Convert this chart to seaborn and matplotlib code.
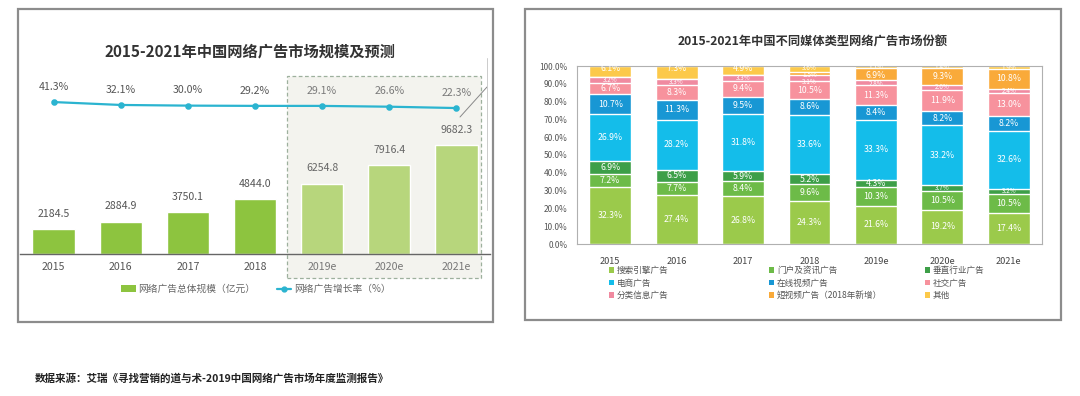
import numpy as np
import pandas as pd
import matplotlib
matplotlib.use("Agg")
import matplotlib.pyplot as plt
from matplotlib.patches import Rectangle, Patch
from matplotlib.lines import Line2D
import seaborn as sns

# ---------------- data ----------------
years = ["2015", "2016", "2017", "2018", "2019e", "2020e", "2021e"]
market_size = [2184.5, 2884.9, 3750.1, 4844.0, 6254.8, 7916.4, 9682.3]
growth_rate = [41.3, 32.1, 30.0, 29.2, 29.1, 26.6, 22.3]

share_names = ["搜索引擎广告", "门户及资讯广告", "垂直行业广告", "电商广告", "在线视频广告",
               "社交广告", "分类信息广告", "短视频广告（2018年新增）", "其他"]
search = [32.3, 27.4, 26.8, 24.3, 21.6, 19.2, 17.4]
portal = [7.2, 7.7, 8.4, 9.6, 10.3, 10.5, 10.5]
vertical = [6.9, 6.5, 5.9, 5.2, 4.3, 3.7, 3.2]
ecommerce = [26.9, 28.2, 31.8, 33.6, 33.3, 33.2, 32.6]
video = [10.7, 11.3, 9.5, 8.6, 8.4, 8.2, 8.2]
social = [6.7, 8.3, 9.4, 10.5, 11.3, 11.9, 13.0]
classified = [3.2, 3.3, 3.3, 3.1, 2.8, 2.6, 2.4]
short_video = [0.0, 0.0, 0.0, 1.5, 6.9, 9.3, 10.8]
other = [6.1, 7.3, 4.9, 3.6, 1.1, 1.4, 1.9]

title_left = "2015-2021年中国网络广告市场规模及预测"
title_right = "2015-2021年中国不同媒体类型网络广告市场份额"
legend_left = ["网络广告总体规模（亿元）", "网络广告增长率（%）"]
source_text = "数据来源：艾瑞《寻找营销的道与术-2019中国网络广告市场年度监测报告》"

# ---------------- style ----------------
sns.set_style("white")
plt.rcParams['font.family'] = ['Noto Sans CJK SC', 'DejaVu Sans']

W, H = 1080, 396
fig = plt.figure(figsize=(W / 100, H / 100), dpi=100)
fig.patch.set_facecolor("white")

def fx(px):
    return px / W

def fy(py):
    return 1 - py / H

green_hist = "#8dc43f"
green_fore = "#b7d67c"
line_col = "#2bb4d0"
seg_colors = ["#9bca4b", "#6dbb48", "#3d9f48", "#14bdea", "#1897d4",
              "#f7929d", "#f08aa0", "#f9aa3a", "#fcc94a"]

# ---------------- panel frames ----------------
for (x0, y0, x1, y1) in [(18, 9, 493, 322), (525, 9, 1061, 320)]:
    fig.add_artist(Rectangle((fx(x0), fy(y1)), fx(x1) - fx(x0), fy(y0) - fy(y1),
                             transform=fig.transFigure, fill=False,
                             edgecolor="#8c8c8c", linewidth=1.6, zorder=5))

# ---------------- left chart ----------------
ax1 = fig.add_axes([fx(20), fy(254), fx(490) - fx(20), fy(75) - fy(254)])
ax1.set_facecolor("none")

# forecast dashed box
ax1.add_patch(Rectangle((fx(287), fy(278)), fx(481) - fx(287), fy(76) - fy(278),
                        transform=fig.transFigure, facecolor="#f3f3ee",
                        edgecolor="#9db09d", linestyle=(0, (3, 2)), linewidth=0.9,
                        zorder=0.2, clip_on=False))

df_left = pd.DataFrame({"year": years, "size": market_size, "growth": growth_rate})
pal = {y: (green_fore if y.endswith("e") else green_hist) for y in years}
sns.barplot(data=df_left, x="year", y="size", hue="year", palette=pal,
            width=0.63, saturation=1, legend=False, ax=ax1, zorder=2)
ax1.set_ylim(0, 15900)
ax1.set_xlim(-0.5, 6.5)
for i, v in enumerate(market_size):
    ax1.annotate(f"{v:.1f}", (i, v), xytext=(0, 11), textcoords="offset points",
                 ha="center", va="center", fontsize=7.6,
                 color="#666666" if years[i].endswith("e") else "#555555")

ax2 = ax1.twinx()
sns.pointplot(data=df_left, x="year", y="growth", color=line_col, markers="o",
              markersize=3.5, linewidth=1.6, errorbar=None, ax=ax2)
ax2.set_ylim(-440, 127)
ax2.set_xlim(-0.5, 6.5)
for i, v in enumerate(growth_rate):
    ax2.annotate(f"{v:.1f}%", (i, v), xytext=(0, 11), textcoords="offset points",
                 ha="center", va="center", fontsize=7.6,
                 color="#7a7a7a" if years[i].endswith("e") else "#555555")

for a in (ax1, ax2):
    for s in ["top", "right", "left"]:
        a.spines[s].set_visible(False)
    a.set_ylabel("")
    a.set_xlabel("")
    a.set_yticks([])
ax2.spines["bottom"].set_visible(False)
ax1.spines["bottom"].set_color("#666666")
ax1.spines["bottom"].set_linewidth(1.0)
ax1.tick_params(axis="x", length=0, pad=6, labelsize=7.6, labelcolor="#555555")
for lbl in ax1.get_xticklabels():
    if lbl.get_text().endswith("e"):
        lbl.set_color("#777777")

# decorative lines near right edge
fig.add_artist(Line2D([fx(460), fx(487)], [fy(117), fy(87)], transform=fig.transFigure,
                      color="#888888", linewidth=0.7))
fig.add_artist(Line2D([fx(487), fx(487)], [fy(58), fy(210)], transform=fig.transFigure,
                      color="#cccccc", linewidth=0.7))

fig.text(fx(250), fy(51), title_left, ha="center", va="center", fontsize=11,
         fontweight="bold", color="#333333")

h_left = [Patch(facecolor=green_hist, edgecolor="none"),
          Line2D([0], [0], color=line_col, marker="o", markersize=3.5, linewidth=1.6)]
fig.legend(h_left, legend_left, loc="center", bbox_to_anchor=(fx(256), fy(289)),
           ncol=2, frameon=False, fontsize=7, labelcolor="#666666",
           handlelength=1.5, handleheight=0.6, handletextpad=0.3, columnspacing=2.2,
           borderpad=0, borderaxespad=0)

# ---------------- right chart ----------------
ax3 = fig.add_axes([fx(577), fy(244), fx(1042) - fx(577), fy(66) - fy(244)])
series = [search, portal, vertical, ecommerce, video, social, classified, short_video, other]
arr = np.array(series)
cum = np.cumsum(arr, axis=0)
for k in range(len(series) - 1, -1, -1):
    sns.barplot(x=years, y=list(cum[k]), color=seg_colors[k], width=0.63,
                saturation=1, ax=ax3)

# segment labels, placed top-down with a minimum spacing so small ones don't collide
px_per_pct = 178 / 100.0
for i in range(len(years)):
    prev_y, prev_fs = None, None
    for k in range(len(series) - 1, -1, -1):
        v = arr[k, i]
        if v <= 0:
            continue
        ymid = cum[k, i] - v / 2
        fs = 6.3 if v >= 4 else 4.6
        if k == len(series) - 1:
            ymid = max(ymid, 98.8)
        if prev_y is not None:
            sep = (fs + prev_fs) / 2 * 1.389 * 1.1 / px_per_pct
            ymid = min(ymid, prev_y - sep)
        ax3.text(i, ymid, f"{v:.1f}%", ha="center", va="center",
                 fontsize=fs, color="white")
        prev_y, prev_fs = ymid, fs
ax3.set_ylim(0, 100)
ax3.set_xlim(-0.5, 6.5)
ax3.set_yticks(np.arange(0, 101, 10))
ax3.set_yticklabels([f"{t:.1f}%" for t in np.arange(0, 101, 10)])
ax3.tick_params(axis="y", length=0, pad=7, labelsize=6, labelcolor="#555555")
ax3.tick_params(axis="x", length=0, pad=9, labelsize=6.6, labelcolor="#444444")
ax3.set_xlabel("")
ax3.set_ylabel("")
for s in ["top", "right", "left", "bottom"]:
    ax3.spines[s].set_color("#b0b0b0")
    ax3.spines[s].set_linewidth(0.8)

fig.text(fx(813), fy(42), title_right, ha="center", va="center", fontsize=8.8,
         fontweight="bold", color="#333333")

# legend: three columns, row-wise order
col_idx = [[0, 3, 6], [1, 4, 7], [2, 5, 8]]
col_x = [609, 769, 925]
for cx, idxs in zip(col_x, col_idx):
    hs = [Patch(facecolor=seg_colors[j], edgecolor="none") for j in idxs]
    fig.legend(hs, [share_names[j] for j in idxs], loc="upper left",
               bbox_to_anchor=(fx(cx), fy(266)), frameon=False, fontsize=6.2,
               labelcolor="#555555", handlelength=0.6, handleheight=0.6,
               handletextpad=0.3, labelspacing=0.42, borderpad=0, borderaxespad=0)

# ---------------- source ----------------
fig.text(fx(35), fy(378), source_text, ha="left", va="center", fontsize=7.6,
         fontweight="bold", color="#222222")

fig.savefig("out.png", dpi=100, facecolor="white")
